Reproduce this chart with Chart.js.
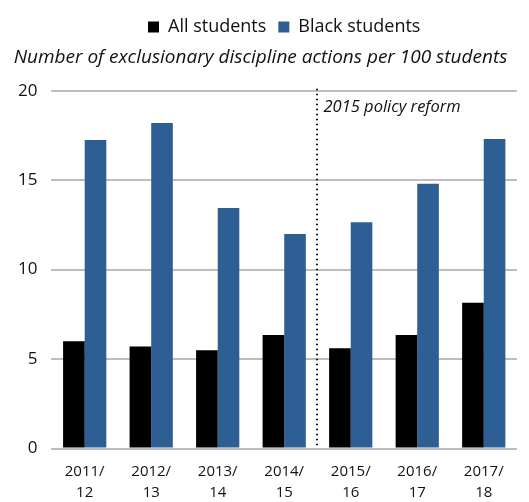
<!DOCTYPE html>
<html>
<head>
<meta charset="utf-8">
<script src="https://cdn.jsdelivr.net/npm/chart.js@4"></script>
<style>
  html, body { margin: 0; padding: 0; background: #fff; }
  #wrap { width: 529px; height: 502px; }
</style>
</head>
<body>
<div id="wrap"><canvas id="myChart" width="529" height="502"></canvas></div>
<script>
const years = [["2011/", "12"], ["2012/", "13"], ["2013/", "14"], ["2014/", "15"],
               ["2015/", "16"], ["2016/", "17"], ["2017/", "18"]];
const allStudents = [6.0, 5.7, 5.5, 6.35, 5.6, 6.35, 8.15];
const blackStudents = [17.25, 18.2, 13.45, 12.0, 12.65, 14.8, 17.3];
const yTicks = [0, 5, 10, 15, 20];
const reformIndex = 4; // reform line sits before this category
const reformLabel = "2015 policy reform";

const FONT = "'Open Sans', 'Noto Sans', sans-serif";

// dotted reform line + label
const reformLine = {
  id: "reformLine",
  afterDatasetsDraw(chart) {
    const { ctx, chartArea, scales } = chart;
    const x = (scales.x.getPixelForValue(reformIndex - 1) + scales.x.getPixelForValue(reformIndex)) / 2;
    ctx.save();
    ctx.strokeStyle = "#111";
    ctx.lineWidth = 2;
    ctx.setLineDash([1.5, 3.5]);
    ctx.beginPath();
    ctx.moveTo(Math.round(x), chartArea.top - 2);
    ctx.lineTo(Math.round(x), chartArea.bottom);
    ctx.stroke();
    ctx.setLineDash([]);
    ctx.fillStyle = "#111";
    ctx.font = "italic 16.5px " + FONT;
    ctx.textBaseline = "middle";
    ctx.fillText(reformLabel, x + 6, chartArea.top + 16);
    ctx.restore();
  }
};

new Chart(document.getElementById("myChart").getContext("2d"), {
  type: "bar",
  data: {
    labels: years,
    datasets: [
      { label: "All students", data: allStudents, backgroundColor: "#000000" },
      { label: "Black students", data: blackStudents, backgroundColor: "#2e5f94" }
    ]
  },
  options: {
    responsive: false,
    animation: false,
    layout: { padding: { left: 4, right: 12, top: 6, bottom: -14 } },
    datasets: { bar: { categoryPercentage: 0.65, barPercentage: 1.0 } },
    plugins: {
      legend: {
        position: "top",
        weight: 3000,
        fullSize: false,
        labels: {
          boxWidth: 11, boxHeight: 11, padding: 12,
          color: "#111",
          font: { family: FONT, size: 18 }
        }
      },
      subtitle: {
        display: true,
        text: "Number of exclusionary discipline actions per 100 students",
        color: "#111",
        font: { family: FONT, size: 19, style: "italic", weight: "normal" },
        padding: { top: 0, bottom: 22 }
      },
      tooltip: { enabled: false }
    },
    scales: {
      x: {
        grid: { display: false, drawTicks: false },
        border: { display: false },
        ticks: {
          color: "#111", padding: 12, maxRotation: 0,
          font: { family: FONT, size: 15, lineHeight: 1.45 }
        }
      },
      y: {
        min: 0, max: 20,
        afterBuildTicks(axis) { axis.ticks = yTicks.map(v => ({ value: v })); },
        grid: { color: "#bdbdbd", lineWidth: 2, drawTicks: false },
        border: { display: false },
        ticks: {
          color: "#111", padding: 14,
          font: { family: FONT, size: 17 }
        }
      }
    }
  },
  plugins: [reformLine]
});
</script>
</body>
</html>
